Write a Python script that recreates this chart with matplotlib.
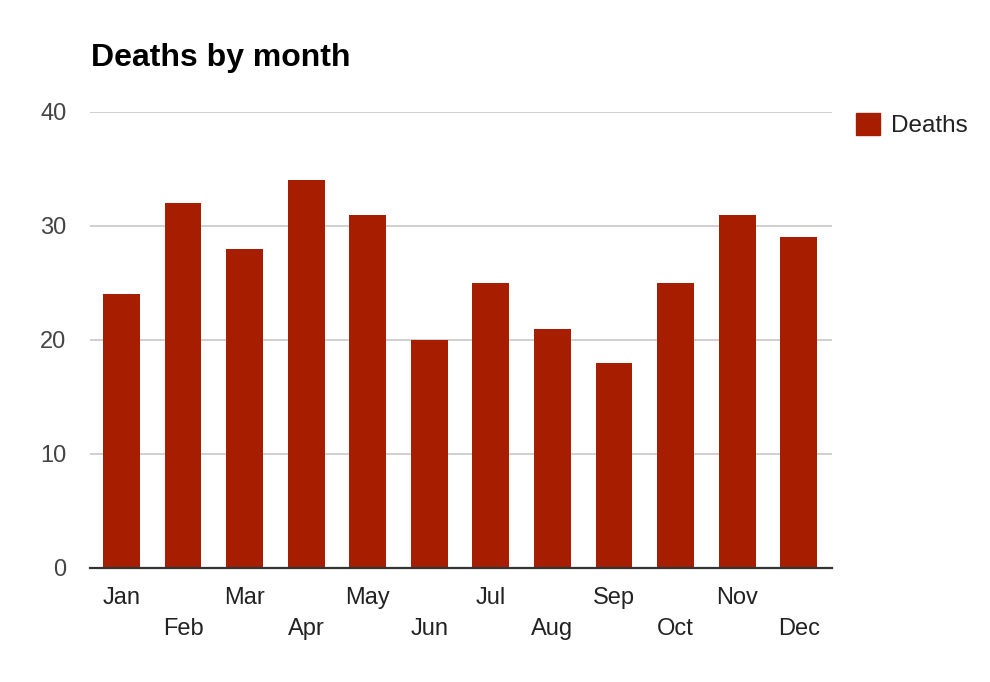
import matplotlib
matplotlib.use('Agg')
import matplotlib.pyplot as plt
from matplotlib.patches import Patch

months = ['Jan', 'Feb', 'Mar', 'Apr', 'May', 'Jun',
          'Jul', 'Aug', 'Sep', 'Oct', 'Nov', 'Dec']
deaths = [24, 32, 28, 34, 31, 20, 25, 21, 18, 25, 31, 29]
y_ticks = [0, 10, 20, 30, 40]

BAR_COLOR = '#a61d00'
plt.rcParams['font.family'] = ['Liberation Sans', 'DejaVu Sans']

fig = plt.figure(figsize=(9.9, 6.82), dpi=100)
ax = fig.add_axes([90 / 990, 1 - 568 / 682, 742 / 990, 456 / 682])

x = list(range(len(months)))
ax.bar(x, deaths, width=0.6, color=BAR_COLOR, zorder=3)

ax.set_xlim(-0.51, len(months) - 0.46)
ax.set_ylim(0, 40)
ax.set_yticks(y_ticks)
ax.yaxis.grid(True, color='#cccccc', linewidth=1.3, zorder=0)
ax.tick_params(axis='y', length=0, pad=17, labelsize=17, labelcolor='#444444')
ax.tick_params(axis='x', length=0, labelsize=17, labelcolor='#222222')

ax.set_xticks(x)
ax.set_xticklabels(months)
# alternate rows of month labels, like the original
for i, lab in enumerate(ax.get_xticklabels()):
    lab.set_y(-0.030 if i % 2 == 0 else -0.100)
    lab.set_verticalalignment('top')

for side in ['top', 'right', 'left']:
    ax.spines[side].set_visible(False)
ax.spines['bottom'].set_color('#333333')
ax.spines['bottom'].set_linewidth(1.6)
ax.spines['bottom'].set_zorder(4)

fig.text(91 / 990, 1 - 58 / 682, 'Deaths by month', fontsize=23,
         fontweight='bold', va='center', ha='left', color='black')

leg = fig.legend(handles=[Patch(color=BAR_COLOR, label='Deaths')],
                 loc='upper left', bbox_to_anchor=(834 / 990, 1 - 91 / 682),
                 frameon=False, fontsize=17.5, handlelength=1.0, handleheight=1.0,
                 handletextpad=0.45, labelcolor='#222222')

fig.savefig('out.png', dpi=100)
